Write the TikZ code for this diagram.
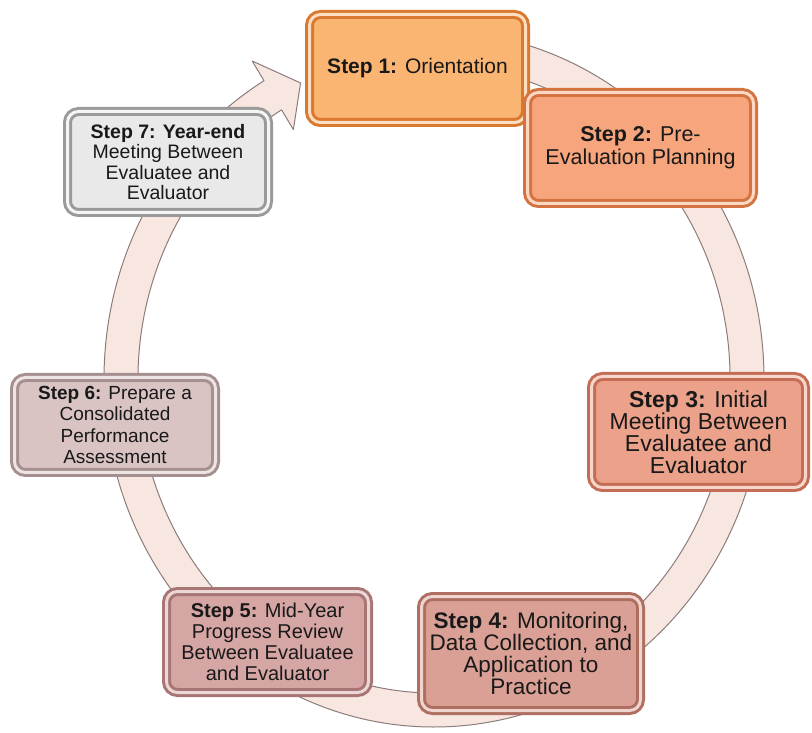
\documentclass[tikz,border=0pt]{standalone}
\usepackage{fontspec}
\setmainfont{Liberation Sans}
\usetikzlibrary{shadows}
\definecolor{ringfill}{HTML}{F8E7E1}
\definecolor{ringedge}{HTML}{8C7C7A}
\definecolor{sonefill}{HTML}{FBB573}
\definecolor{soneedge}{HTML}{D9782E}
\definecolor{stwofill}{HTML}{F7A57C}
\definecolor{stwoedge}{HTML}{D3733F}
\definecolor{sthreefill}{HTML}{EBA18A}
\definecolor{sthreeedge}{HTML}{C46C55}
\definecolor{sfourfill}{HTML}{DBA095}
\definecolor{sfouredge}{HTML}{AE6F60}
\definecolor{sfivefill}{HTML}{D6A6A4}
\definecolor{sfiveedge}{HTML}{A67574}
\definecolor{ssixfill}{HTML}{D9C4C3}
\definecolor{ssixedge}{HTML}{A6908F}
\definecolor{ssevenfill}{HTML}{E9E9E9}
\definecolor{ssevenedge}{HTML}{9A9A9A}

\begin{document}
\begin{tikzpicture}[x=1pt,y=1pt,
  stepbox/.style 2 args={fill=#1,draw=#2,double=#1!45!white,double distance=3pt,line width=3pt,
    rounded corners=11pt,align=center,text=black!90,inner sep=0pt,
    drop shadow={shadow xshift=3pt,shadow yshift=-3pt,opacity=.35}},
  fs/.style 2 args={font=\fontsize{#1}{#2}\selectfont}]
\useasboundingbox (0,0) rectangle (812,732);
\begin{scope}[shift={(434,353)}]
\draw[fill=ringfill,draw=ringedge,line width=1pt,line join=round]
  (92:330 and 348) arc[start angle=92,end angle=-239,x radius=330,y radius=348]
  -- (121:353 and 371) -- (115.5:310 and 328) -- (121:273 and 291)
  -- (121:296 and 314) arc[start angle=121,end angle=452,x radius=296,y radius=314] -- cycle;
\end{scope}
\node[stepbox={sonefill}{soneedge},fs={21}{22},minimum width=216,minimum height=108] (step1) at (417.5,663.5) {\textbf{Step 1:} Orientation};
\node[stepbox={stwofill}{stwoedge},fs={21.5}{23},minimum width=226,minimum height=111] (step2) at (640.5,584) {\textbf{Step 2:} Pre-\\Evaluation Planning};
\node[stepbox={sthreefill}{sthreeedge},fs={23}{22},minimum width=214,minimum height=111] (step3) at (698.5,300) {\textbf{Step 3:} Initial\\Meeting Between\\Evaluatee and\\Evaluator};
\node[stepbox={sfourfill}{sfouredge},fs={22.5}{22},minimum width=219,minimum height=114] (step4) at (531,78.5) {\textbf{Step 4:} Monitoring,\\Data Collection, and\\Application to\\Practice};
\node[stepbox={sfivefill}{sfiveedge},fs={20}{21},minimum width=202,minimum height=101] (step5) at (267.5,90) {\textbf{Step 5:} Mid-Year\\Progress Review\\Between Evaluatee\\and Evaluator};
\node[stepbox={ssixfill}{ssixedge},fs={19}{21.5},minimum width=201,minimum height=95] (step6) at (115,307) {\textbf{Step 6:} Prepare a\\Consolidated\\Performance\\Assessment};
\node[stepbox={ssevenfill}{ssevenedge},fs={19.5}{20.5},minimum width=201,minimum height=101] (step7) at (168,570) {\textbf{Step 7: Year-end}\\Meeting Between\\Evaluatee and\\Evaluator};
\end{tikzpicture}
\end{document}
